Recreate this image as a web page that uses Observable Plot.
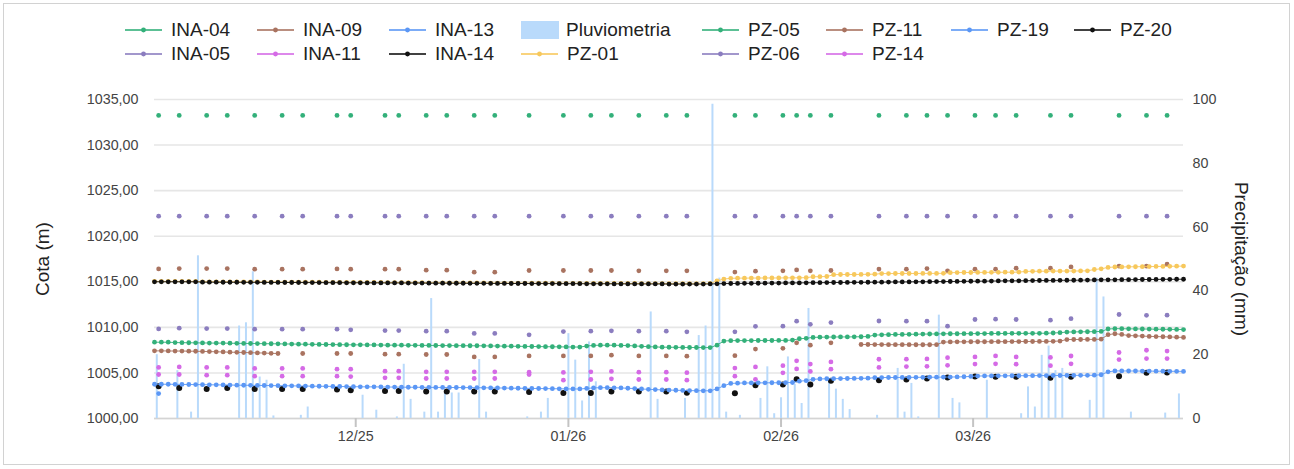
<!DOCTYPE html>
<html><head><meta charset="utf-8">
<script src="https://cdn.jsdelivr.net/npm/d3@7"></script>
<script src="https://cdn.jsdelivr.net/npm/@observablehq/plot@0.6"></script>
<style>
body{margin:0;background:#fff;font-family:"Liberation Sans",Arial,sans-serif;}
#wrap{position:relative;width:1294px;height:469px;overflow:hidden;background:#fff;}
#legend{position:relative;height:72px;}
.item{position:absolute;display:flex;align-items:center;height:24px;font-size:19px;color:#222;white-space:nowrap;}
#frame{position:absolute;left:3px;top:3px;width:1287px;height:462px;border:1px solid #d2d2d2;box-sizing:border-box;pointer-events:none;}
</style></head><body>
<div id="wrap"><div id="legend"></div><div id="chart"></div><div id="frame"></div></div>
<script>
// ---------- DATA ----------
const denseStart = "2025-11-01T16:00:00Z";   // first daily reading (one reading per day)
const sparseTime = "T06:30:00Z";              // time of the manual readings

const PZ01 = [
1015.04,1015.04,1015.04,1015.04,1015.04,1015.04,1015.04,1015.00,1015.00,1015.00,
1014.99,1014.99,1014.99,1014.98,1014.98,1014.98,1014.97,1014.97,1014.97,1014.96,
1014.96,1014.96,1014.95,1014.95,1014.95,1014.94,1014.94,1014.94,1014.93,1014.93,
1014.93,1014.92,1014.92,1014.92,1014.91,1014.91,1014.91,1014.90,1014.90,1014.90,
1014.89,1014.89,1014.89,1014.88,1014.88,1014.88,1014.87,1014.87,1014.87,1014.86,
1014.86,1014.86,1014.85,1014.85,1014.85,1014.84,1014.84,1014.84,1014.84,1014.83,
1014.83,1014.83,1014.83,1014.82,1014.82,1014.82,1014.82,1014.81,1014.81,1014.81,
1014.81,1014.80,1014.80,1014.80,1014.80,1014.79,1014.79,1014.79,1014.79,1014.79,
1014.79,1014.82,1015.10,1015.30,1015.38,1015.40,1015.40,1015.41,1015.41,1015.42,
1015.42,1015.42,1015.43,1015.43,1015.44,1015.45,1015.55,1015.56,1015.58,1015.78,
1015.80,1015.80,1015.80,1015.81,1015.82,1015.84,1015.90,1015.90,1015.91,1015.91,
1015.91,1015.91,1015.92,1015.92,1015.92,1015.93,1016.00,1016.01,1016.02,1016.02,
1016.03,1016.03,1016.04,1016.04,1016.05,1016.05,1016.06,1016.14,1016.15,1016.16,
1016.16,1016.17,1016.17,1016.18,1016.18,1016.19,1016.20,1016.35,1016.42,1016.58,
1016.62,1016.63,1016.64,1016.65,1016.66,1016.67,1016.68,1016.69,1016.70,1016.71,
1016.72];

const PZ05 = [
1008.37,1008.37,1008.37,1008.33,1008.32,1008.31,1008.30,1008.29,1008.28,1008.27,
1008.27,1008.26,1008.25,1008.24,1008.23,1008.22,1008.21,1008.20,1008.19,1008.18,
1008.17,1008.16,1008.15,1008.14,1008.13,1008.12,1008.11,1008.10,1008.09,1008.08,
1008.08,1008.07,1008.07,1008.06,1008.05,1008.05,1008.04,1008.03,1008.03,1008.02,
1008.02,1008.01,1008.00,1008.00,1007.99,1007.99,1007.98,1007.98,1007.97,1007.96,
1007.95,1007.94,1007.93,1007.92,1007.91,1007.90,1007.89,1007.88,1007.87,1007.86,
1007.85,1007.84,1007.84,1007.95,1008.02,1008.04,1008.04,1008.04,1008.02,1008.00,
1007.96,1007.92,1007.88,1007.85,1007.83,1007.82,1007.81,1007.80,1007.79,1007.79,
1007.78,1007.78,1008.05,1008.50,1008.54,1008.55,1008.55,1008.55,1008.56,1008.56,
1008.56,1008.57,1008.57,1008.60,1008.75,1008.80,1008.90,1008.92,1008.93,1008.94,
1008.95,1008.95,1008.96,1008.97,1009.00,1009.15,1009.18,1009.20,1009.22,1009.23,
1009.24,1009.25,1009.26,1009.27,1009.28,1009.29,1009.30,1009.30,1009.31,1009.31,
1009.32,1009.32,1009.33,1009.33,1009.33,1009.34,1009.34,1009.34,1009.35,1009.35,
1009.36,1009.38,1009.42,1009.48,1009.50,1009.51,1009.52,1009.53,1009.55,1009.82,
1009.86,1009.85,1009.84,1009.83,1009.82,1009.81,1009.80,1009.79,1009.78,1009.77,
1009.76];

const PZ11 = [
1007.42,1007.42,1007.41,1007.40,1007.40,1007.39,1007.38,1007.36,1007.34,1007.32,
1007.30,1007.28,1007.26,1007.24,1007.22,1007.20,1007.18,1007.15,1007.13,
null,null,null,null,null,null,null,null,null,null,null,null,null,null,null,null,null,null,null,null,null,
null,null,null,null,null,null,null,null,null,null,null,null,null,null,null,null,null,null,null,null,null,
null,null,null,null,null,null,null,null,null,null,null,null,null,null,null,null,null,null,null,null,null,
null,null,null,null,null,null,null,null,null,null,null,null,null,null,null,null,null,null,null,null,null,
1008.12,1008.12,1008.11,1008.11,1008.10,1008.10,1008.10,
1008.10,1008.09,1008.09,1008.09,1008.10,
1008.38,1008.40,1008.41,1008.41,1008.42,1008.42,1008.42,1008.43,1008.43,1008.43,
1008.44,1008.44,1008.45,1008.45,1008.46,1008.46,1008.47,1008.50,
1008.66,1008.67,1008.67,1008.68,1008.68,1008.70,
1009.20,1009.30,1009.22,1009.10,1009.07,1009.04,1009.01,1008.99,1008.97,1008.95,1008.92,1008.90];

const PZ19 = [
1003.76,1003.76,1003.76,1003.75,1003.74,1003.73,1003.72,1003.71,1003.70,1003.69,
1003.68,1003.67,1003.66,1003.65,1003.64,1003.63,1003.62,1003.61,1003.60,1003.59,
1003.58,1003.57,1003.56,1003.55,1003.54,1003.53,1003.52,1003.51,1003.50,1003.49,
1003.48,1003.47,1003.47,1003.46,1003.45,1003.45,1003.44,1003.43,1003.43,1003.42,
1003.42,1003.41,1003.41,1003.40,1003.40,1003.39,1003.39,1003.38,1003.37,1003.36,
1003.35,1003.34,1003.33,1003.32,1003.31,1003.30,1003.29,1003.28,1003.27,1003.26,
1003.25,1003.24,1003.24,1003.30,1003.36,1003.38,1003.38,1003.37,1003.35,1003.32,
1003.28,1003.24,1003.20,1003.17,1003.14,1003.12,1003.10,1003.08,1003.06,1003.05,
1003.04,1003.04,1003.25,1003.60,1003.85,1003.88,1003.90,1003.90,1003.91,1003.91,
1003.92,1003.92,1003.93,1003.95,1004.10,1004.15,1004.30,1004.34,1004.36,1004.37,
1004.38,1004.39,1004.40,1004.41,1004.42,1004.48,1004.49,1004.50,1004.50,1004.51,
1004.51,1004.52,1004.52,1004.53,1004.53,1004.54,1004.55,1004.56,1004.58,1004.62,
1004.66,1004.67,1004.67,1004.68,1004.68,1004.69,1004.69,1004.70,1004.70,1004.71,
1004.71,1004.72,1004.72,1004.73,1004.73,1004.74,1004.74,1004.75,1004.80,1005.12,
1005.22,1005.22,1005.21,1005.21,1005.20,1005.20,1005.19,1005.19,1005.18,1005.18,
1005.17];

const PZ20 = [
1015.00,1015.00,1015.00,1015.00,1015.00,1015.00,1015.00,1014.96,1014.96,1014.96,
1014.95,1014.95,1014.95,1014.94,1014.94,1014.94,1014.93,1014.93,1014.93,1014.92,
1014.92,1014.92,1014.91,1014.91,1014.91,1014.90,1014.90,1014.90,1014.89,1014.89,
1014.89,1014.88,1014.88,1014.88,1014.87,1014.87,1014.87,1014.86,1014.86,1014.86,
1014.85,1014.85,1014.85,1014.84,1014.84,1014.84,1014.83,1014.83,1014.83,1014.82,
1014.82,1014.82,1014.81,1014.81,1014.81,1014.80,1014.80,1014.80,1014.80,1014.79,
1014.79,1014.79,1014.79,1014.78,1014.78,1014.78,1014.78,1014.77,1014.77,1014.77,
1014.77,1014.76,1014.76,1014.76,1014.76,1014.75,1014.75,1014.75,1014.75,1014.75,
1014.75,1014.76,1014.78,1014.80,1014.81,1014.82,1014.83,1014.83,1014.84,1014.85,
1014.86,1014.86,1014.87,1014.88,1014.88,1014.89,1014.90,1014.90,1014.91,1014.92,
1014.92,1014.93,1014.94,1014.94,1014.95,1014.96,1014.96,1014.97,1014.98,1014.98,
1014.99,1015.00,1015.00,1015.01,1015.02,1015.02,1015.03,1015.04,1015.05,1015.06,
1015.07,1015.07,1015.08,1015.09,1015.10,1015.10,1015.11,1015.12,1015.13,1015.14,
1015.15,1015.15,1015.16,1015.17,1015.17,1015.18,1015.19,1015.20,1015.21,1015.21,
1015.22,1015.23,1015.23,1015.24,1015.25,1015.25,1015.26,1015.27,1015.27,1015.28,
1015.28];

// manual readings
const sparseDays = ["2025-11-02","2025-11-05","2025-11-09","2025-11-12","2025-11-16","2025-11-20","2025-11-23","2025-11-28","2025-11-30",
"2025-12-05","2025-12-07","2025-12-11","2025-12-14","2025-12-18","2025-12-21","2025-12-26","2025-12-31",
"2026-01-04","2026-01-07","2026-01-11","2026-01-15","2026-01-18","2026-01-25","2026-01-28",
"2026-02-01","2026-02-03","2026-02-05","2026-02-08","2026-02-15","2026-02-19","2026-02-22","2026-02-25",
"2026-03-01","2026-03-04","2026-03-07","2026-03-12","2026-03-15","2026-03-22","2026-03-26","2026-03-29"];

const INA04 = [1033.25,1033.25,1033.25,1033.25,1033.25,1033.25,1033.25,1033.25,1033.25,1033.25,
1033.25,1033.25,1033.25,1033.25,1033.25,1033.25,1033.25,1033.25,1033.25,1033.25,
1033.25,1033.25,1033.25,1033.25,1033.25,1033.25,1033.25,1033.25,1033.25,1033.25,
1033.25,1033.25,1033.25,1033.25,1033.25,1033.25,1033.25,1033.25,1033.25,1033.25];
const INA05 = [1022.20,1022.20,1022.20,1022.20,1022.20,1022.20,1022.20,1022.20,1022.20,1022.20,
1022.20,1022.20,1022.20,1022.20,1022.20,1022.20,1022.20,1022.20,1022.20,1022.20,
1022.20,1022.20,1022.20,1022.20,1022.20,1022.20,1022.20,1022.20,1022.20,1022.20,
1022.20,1022.20,1022.20,1022.20,1022.20,1022.20,1022.20,1022.20,1022.20,1022.20];
const INA09 = [1016.41,1016.45,1016.45,1016.45,1016.38,1016.38,1016.38,1016.41,1016.38,1016.38,
1016.38,1016.27,1016.27,1016.05,1016.05,1016.24,1016.24,1016.24,1016.24,1016.20,
1016.20,1016.20,1016.07,1016.16,1016.20,1016.30,1016.20,1016.24,1016.40,1016.38,
1016.45,1016.20,1016.38,1016.38,1016.49,1016.49,1016.63,1016.71,1016.71,1016.93];
const INA11 = [1005.60,1005.66,1005.60,1005.60,1005.49,1005.49,1005.49,1005.41,1005.41,1005.19,
1005.19,1005.12,1005.12,1005.12,1005.12,1005.08,1005.05,1005.12,1005.16,1005.08,
1005.08,1005.03,1005.53,1005.66,1005.80,1006.33,1005.97,1006.21,1006.50,1006.51,
1006.54,1006.67,1006.76,1006.87,1006.76,1006.70,1006.86,1007.24,1007.49,1007.40];
const INA13 = [1002.74,null,null,null,null,null,null,null,null,null,
null,null,null,null,null,null,null,null,null,null,
null,null,null,null,null,null,null,null,null,null,
null,null,null,null,null,null,null,null,null,null];
const INA14 = [1003.54,1003.36,1003.25,1003.36,1003.25,1003.25,1003.25,1003.18,1003.11,1003.03,
1003.03,1002.96,1002.96,1002.96,1002.96,1002.92,1002.81,1002.81,1002.96,1002.96,
1002.96,1002.83,1002.77,1003.65,1003.73,1004.31,1003.73,1004.13,1004.20,1004.29,
1004.39,1004.50,1004.60,1004.57,1004.57,1004.46,1004.57,1004.64,1005.03,1005.05];
const PZ06 = [1009.83,1009.91,1009.87,1009.87,1009.80,1009.80,1009.80,1009.80,1009.73,1009.65,
1009.65,1009.58,1009.58,1009.33,1009.33,1009.18,1009.54,1009.58,1009.62,1009.58,
1009.58,1009.51,1009.51,1010.11,1010.13,1010.68,1010.33,1010.53,1010.70,1010.68,
1010.68,1010.13,1010.86,1010.90,1010.86,1010.79,1010.95,1011.41,1011.32,1011.34];
const PZ11manual = [null,null,null,null,null,null,1007.13,1007.13,1007.13,1007.06,
1007.06,1007.02,1007.02,1006.76,1006.76,1006.87,1006.87,1006.87,1006.95,1006.87,
1006.87,1006.84,1006.89,1007.62,1007.70,1008.30,1008.04,1008.30,null,null,
null,null,null,null,null,null,null,null,null,null];
const PZ14 = [1004.83,1004.83,1004.75,1004.75,1004.64,1004.64,1004.64,1004.64,1004.60,1004.46,
1004.46,1004.39,1004.39,1004.39,1004.39,1004.83,1004.20,1004.28,1004.35,1004.28,
1004.28,1004.20,1004.64,1004.30,1005.01,1005.44,1005.16,1005.41,1005.60,1005.70,
1005.72,1005.83,1005.97,1006.00,1005.96,1005.80,1006.00,1006.47,1006.58,1006.58];

// Pluviometria (mm per day)
const rainDays = ["2025-11-02","2025-11-05","2025-11-07","2025-11-08","2025-11-14","2025-11-15","2025-11-16","2025-11-17","2025-11-18","2025-11-19","2025-11-23","2025-11-24",
"2025-12-02","2025-12-04","2025-12-07","2025-12-08","2025-12-09","2025-12-11","2025-12-12","2025-12-13","2025-12-14","2025-12-15","2025-12-16","2025-12-19","2025-12-20","2025-12-26","2025-12-28","2025-12-29",
"2026-01-01","2026-01-02","2026-01-03","2026-01-04","2026-01-05","2026-01-13","2026-01-14","2026-01-18","2026-01-20","2026-01-21","2026-01-22","2026-01-23","2026-01-24","2026-01-26","2026-01-29","2026-01-30","2026-01-31",
"2026-02-01","2026-02-02","2026-02-03","2026-02-04","2026-02-05","2026-02-08","2026-02-09","2026-02-10","2026-02-11","2026-02-15","2026-02-18","2026-02-19","2026-02-20","2026-02-21","2026-02-24","2026-02-26","2026-02-27",
"2026-03-03","2026-03-08","2026-03-09","2026-03-10","2026-03-11","2026-03-12","2026-03-13","2026-03-14","2026-03-18","2026-03-19","2026-03-20","2026-03-24","2026-03-29","2026-03-31"];
const rainMm = [20,15,2,51,29,30,46,13,12,0.8,1,3.6,
7.3,2.6,0.5,17,6,2,37.6,2,8,8,8,18.5,2,0.5,2,6.3,
26.6,18.3,5.5,24,11.5,33.4,6,6.3,26,29,98.5,44,2,1,6.3,16.2,1.5,
6.5,19.3,10.7,4.7,34.5,12.5,9.2,6,2.8,1,15.7,2,11,0.5,32.4,6.3,4.9,
12,1.5,9.9,3.6,19.8,22.7,15,15.7,5.7,44,38.1,2,1.7,7.7];

const cotaTicks = [1000,1005,1010,1015,1020,1025,1030,1035];
const precTicks = [0,20,40,60,80,100];
const monthTicks = ["2025-12-01","2026-01-01","2026-02-01","2026-03-01"];

// ---------- STYLE ----------
const C = {green:"#33b07a", purple:"#8b7dbf", brown:"#a97360", magenta:"#d56ae6",
           blue:"#5b97f5", black:"#111111", yellow:"#f7c85c", rain:"#b9dafb"};
const cotaMin = 1000, cotaMax = 1035, precMax = 100;
const toCota = p => cotaMin + p * (cotaMax - cotaMin) / precMax;

// ---------- BUILD ----------
const start = new Date(denseStart);
const dailyDates = PZ20.map((_, i) => d3.utcDay.offset(start, i));
const manualDates = sparseDays.map(d => new Date(d + sparseTime));
const rows = (dates, vals) => vals.map((v, i) => ({date: dates[i], v}));

const series = [
  {name:"INA-04", dates:manualDates, vals:INA04, color:C.green, line:false},
  {name:"INA-05", dates:manualDates, vals:INA05, color:C.purple, line:false},
  {name:"INA-09", dates:manualDates, vals:INA09, color:C.brown, line:false},
  {name:"INA-11", dates:manualDates, vals:INA11, color:C.magenta, line:false},
  {name:"INA-13", dates:manualDates, vals:INA13, color:C.blue, line:false},
  {name:"INA-14", dates:manualDates, vals:INA14, color:C.black, line:false, r:3},
  {name:"PZ-01", dates:dailyDates, vals:PZ01, color:C.yellow, line:true},
  {name:"PZ-05", dates:dailyDates, vals:PZ05, color:C.green, line:true},
  {name:"PZ-06", dates:manualDates, vals:PZ06, color:C.purple, line:false},
  {name:"PZ-11", dates:dailyDates, vals:PZ11, color:C.brown, line:true},
  {name:"PZ-11m", dates:manualDates, vals:PZ11manual, color:C.brown, line:false},
  {name:"PZ-14", dates:manualDates, vals:PZ14, color:C.magenta, line:false},
  {name:"PZ-19", dates:dailyDates, vals:PZ19, color:C.blue, line:true},
  {name:"PZ-20", dates:dailyDates, vals:PZ20, color:C.black, line:true}
];

const rain = rainDays.map((d, i) => ({date: new Date(d + "T00:00:00Z"), mm: rainMm[i]}));

const font = "'Liberation Sans', Arial, Helvetica, sans-serif";
const marks = [
  Plot.gridY(cotaTicks, {stroke:"#e6e6e6", strokeOpacity:1, strokeWidth:1.6}),
  Plot.ruleY([cotaMin], {stroke:"#d4d4d4", strokeWidth:1.6}),
  Plot.ruleX(rain, {x:"date", y1: () => cotaMin, y2: d => toCota(d.mm), stroke:C.rain, strokeWidth:2})
];
for (const s of series) {
  const data = rows(s.dates, s.vals);
  if (s.line) marks.push(Plot.line(data, {x:"date", y:"v", stroke:s.color, strokeWidth:1, strokeOpacity:0.9}));
  marks.push(Plot.dot(data, {x:"date", y:"v", r:s.r || 2.4, fill:s.color, stroke:null}));
}
marks.push(
  Plot.axisY(cotaTicks, {anchor:"left", tickSize:0, tickPadding:16, fontSize:14.3, fill:"#444",
    tickFormat: d => d.toFixed(2).replace(".", ","), label:null}),
  Plot.axisY(precTicks.map(toCota), {anchor:"right", tickSize:0, tickPadding:9, fontSize:14.3, fill:"#444",
    tickFormat: (d, i) => String(precTicks[i]), label:null}),
  Plot.axisX(monthTicks.map(d => new Date(d + "T00:00:00Z")), {anchor:"bottom", tickSize:9, tickPadding:3,
    stroke:"#c4c4c4", strokeWidth:2, fontSize:14.3, fill:"#444", tickFormat: d3.utcFormat("%m/%y"), label:null}),
  Plot.text(["Cota (m)"], {text: d => d, frameAnchor:"left", dx:-112, rotate:-90, textAnchor:"middle", fontSize:19, fill:"#222"}),
  Plot.text(["Precipitação (mm)"], {text: d => d, frameAnchor:"right", dx:58, rotate:90, textAnchor:"middle", fontSize:19, fill:"#222"})
);

const chart = Plot.plot({
  width: 1294, height: 397,
  marginLeft: 154, marginRight: 111, marginTop: 27, marginBottom: 51,
  x: {type:"utc", domain:[start, dailyDates[dailyDates.length - 1]]},
  y: {domain:[cotaMin, cotaMax]},
  style: {fontFamily: font, background:"transparent", overflow:"visible"},
  marks
});
document.getElementById("chart").appendChild(chart);

// ---------- LEGEND ----------
const legendCols = [
  {x:125, items:[["INA-04",C.green],["INA-05",C.purple]]},
  {x:257, items:[["INA-09",C.brown],["INA-11",C.magenta]]},
  {x:389, items:[["INA-13",C.blue],["INA-14",C.black]]},
  {x:521, items:[["Pluviometria",C.rain,"box"],["PZ-01",C.yellow]]},
  {x:702, items:[["PZ-05",C.green],["PZ-06",C.purple]]},
  {x:826, items:[["PZ-11",C.brown],["PZ-14",C.magenta]]},
  {x:951, items:[["PZ-19",C.blue]]},
  {x:1074, items:[["PZ-20",C.black]]}
];
const rowsY = [30, 54];
const leg = document.getElementById("legend");
legendCols.forEach(col => col.items.forEach(([name, color, kind], r) => {
  const div = document.createElement("div");
  div.className = "item";
  div.style.left = col.x + "px";
  div.style.top = (rowsY[r] - 12) + "px";
  const sw = kind === "box"
    ? `<svg width="38" height="18" style="margin-right:7px"><rect x="0" y="0" width="38" height="18" fill="${color}"/></svg>`
    : `<svg width="37" height="10" style="margin-right:9px"><line x1="0" x2="37" y1="5" y2="5" stroke="${color}" stroke-width="2" stroke-opacity="0.8"/><circle cx="18.5" cy="5" r="2.4" fill="${color}"/></svg>`;
  div.innerHTML = sw + `<span>${name}</span>`;
  leg.appendChild(div);
}));
</script>
</body></html>
